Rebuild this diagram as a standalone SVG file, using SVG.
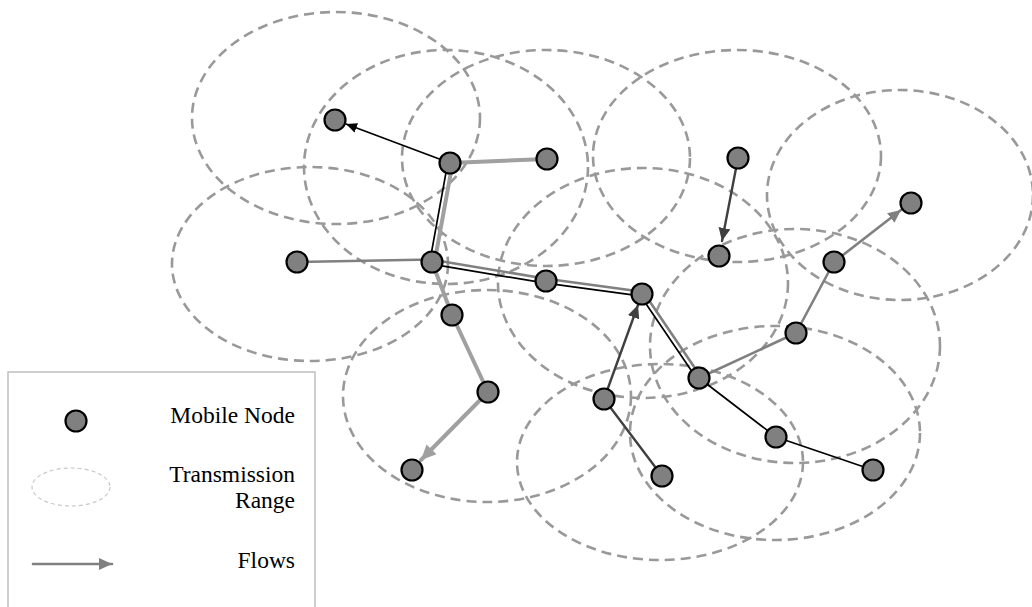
<svg xmlns="http://www.w3.org/2000/svg" width="1032" height="607" viewBox="0 0 1032 607">
  <style>
    .range { fill: none; stroke: #999999; stroke-width: 2.6; stroke-dasharray: 10 6; }
    .node circle { fill: #808080; stroke: #000000; stroke-width: 2.2; }
    .black { stroke: #000000; stroke-width: 1.7; fill: none; stroke-linecap: round; }
    .mid { stroke: #808080; stroke-width: 2.6; fill: none; stroke-linecap: round; }
    .thick { stroke: #a0a0a0; stroke-width: 4; fill: none; stroke-linecap: round; }
    .dark { stroke: #404040; stroke-width: 2.4; fill: none; stroke-linecap: round; }
    .label { font-family: "Liberation Serif", "Times New Roman", serif; font-size: 23.5px; fill: #000000; text-anchor: end; }
  </style>
  <defs>
    <marker id="arrBlack" markerUnits="userSpaceOnUse" markerWidth="12" markerHeight="10" refX="11" refY="5" orient="auto">
      <path d="M0,0 L11,5 L0,10 Z" fill="#000000"/>
    </marker>
    <marker id="arrMid" markerUnits="userSpaceOnUse" markerWidth="14" markerHeight="12" refX="13" refY="6" orient="auto">
      <path d="M0,0 L13,6 L0,12 Z" fill="#808080"/>
    </marker>
    <marker id="arrThick" markerUnits="userSpaceOnUse" markerWidth="16" markerHeight="14" refX="15" refY="7" orient="auto">
      <path d="M0,0 L15,7 L0,14 Z" fill="#a0a0a0"/>
    </marker>
    <marker id="arrDark" markerUnits="userSpaceOnUse" markerWidth="14" markerHeight="12" refX="13" refY="6" orient="auto">
      <path d="M0,0 L13,6 L0,12 Z" fill="#404040"/>
    </marker>
  </defs>

  <rect width="1032" height="607" fill="#ffffff"/>

  <!-- transmission ranges -->
  <g id="ranges">
    <ellipse class="range" cx="336" cy="118" rx="144" ry="106"/>
    <ellipse class="range" cx="446" cy="167" rx="142" ry="117"/>
    <ellipse class="range" cx="546" cy="158" rx="144" ry="108"/>
    <ellipse class="range" cx="737" cy="156" rx="144" ry="106"/>
    <ellipse class="range" cx="900" cy="195" rx="133" ry="105"/>
    <ellipse class="range" cx="310" cy="264" rx="138" ry="97"/>
    <ellipse class="range" cx="643" cy="283" rx="145" ry="115"/>
    <ellipse class="range" cx="487" cy="396" rx="144" ry="106"/>
    <ellipse class="range" cx="795" cy="346" rx="145" ry="117"/>
    <ellipse class="range" cx="660" cy="462" rx="143" ry="98"/>
    <ellipse class="range" cx="775" cy="433" rx="145" ry="107"/>
  </g>

  <!-- flows -->
  <g id="connectors">
    <!-- light thick flow -->
    <line class="thick" x1="547" y1="159" x2="450" y2="163"/>
    <line class="thick" x1="452.5" y1="163.5" x2="434.5" y2="262.5"/>
    <line class="thick" x1="432" y1="262" x2="452" y2="315"/>
    <line class="thick" x1="452" y1="315" x2="488" y2="392"/>
    <line class="thick" x1="488" y1="392" x2="421" y2="460" marker-end="url(#arrThick)"/>

    <!-- black flow -->
    <line class="black" x1="873" y1="470" x2="776" y2="437"/>
    <line class="black" x1="776" y1="437" x2="699" y2="378"/>
    <line class="black" x1="697.2" y1="379.2" x2="640.2" y2="295.2"/>
    <line class="black" x1="641.7" y1="296.2" x2="545.7" y2="283.2"/>
    <line class="black" x1="545.6" y1="283.2" x2="431.6" y2="264.2"/>
    <line class="black" x1="429.8" y1="261.6" x2="447.8" y2="162.6"/>
    <line class="black" x1="450" y1="163" x2="346" y2="124" marker-end="url(#arrBlack)"/>

    <!-- mid grey flow -->
    <line class="mid" x1="297" y1="262" x2="432" y2="259.5"/>
    <line class="mid" x1="432.4" y1="259.8" x2="546.4" y2="278.8"/>
    <line class="mid" x1="546.3" y1="278.8" x2="642.3" y2="291.8"/>
    <line class="mid" x1="643.8" y1="292.8" x2="700.8" y2="376.8"/>
    <line class="mid" x1="699" y1="378" x2="796" y2="333"/>
    <line class="mid" x1="796" y1="333" x2="834" y2="262"/>
    <line class="mid" x1="834" y1="262" x2="901" y2="210" marker-end="url(#arrMid)"/>

    <!-- dark flows -->
    <line class="dark" x1="662" y1="476" x2="604" y2="399"/>
    <line class="dark" x1="604" y1="399" x2="638" y2="305" marker-end="url(#arrDark)"/>
    <line class="dark" x1="738" y1="158" x2="722" y2="241" marker-end="url(#arrDark)"/>
  </g>

  <!-- mobile nodes -->
  <g id="n1" class="node"><circle cx="335" cy="120" r="10.5"/></g>
  <g id="n2" class="node"><circle cx="450" cy="163" r="10.5"/></g>
  <g id="n3" class="node"><circle cx="547" cy="159" r="10.5"/></g>
  <g id="n4" class="node"><circle cx="738" cy="158" r="10.5"/></g>
  <g id="n5" class="node"><circle cx="297" cy="262" r="10.5"/></g>
  <g id="n6" class="node"><circle cx="432" cy="262" r="10.5"/></g>
  <g id="n7" class="node"><circle cx="546" cy="281" r="10.5"/></g>
  <g id="n8" class="node"><circle cx="642" cy="294" r="10.5"/></g>
  <g id="n9" class="node"><circle cx="719" cy="256" r="10.5"/></g>
  <g id="n10" class="node"><circle cx="911" cy="203" r="10.5"/></g>
  <g id="n11" class="node"><circle cx="834" cy="262" r="10.5"/></g>
  <g id="n12" class="node"><circle cx="452" cy="315" r="10.5"/></g>
  <g id="n13" class="node"><circle cx="796" cy="333" r="10.5"/></g>
  <g id="n14" class="node"><circle cx="488" cy="392" r="10.5"/></g>
  <g id="n15" class="node"><circle cx="604" cy="399" r="10.5"/></g>
  <g id="n16" class="node"><circle cx="699" cy="378" r="10.5"/></g>
  <g id="n17" class="node"><circle cx="412" cy="470" r="10.5"/></g>
  <g id="n18" class="node"><circle cx="662" cy="476" r="10.5"/></g>
  <g id="n19" class="node"><circle cx="776" cy="437" r="10.5"/></g>
  <g id="n20" class="node"><circle cx="873" cy="470" r="10.5"/></g>

  <!-- legend -->
  <g id="legend">
    <rect x="8" y="372" width="307" height="250" fill="#ffffff" stroke="#bfbfbf" stroke-width="1.5"/>
    <g class="node"><circle cx="76" cy="421" r="10.5"/></g>
    <text class="label" x="295" y="423">Mobile Node</text>
    <ellipse cx="71" cy="487" rx="39" ry="19" fill="none" stroke="#c8c8c8" stroke-width="1.2" stroke-dasharray="4 3"/>
    <text class="label" x="295" y="482">Transmission</text>
    <text class="label" x="295" y="508">Range</text>
    <line class="mid" x1="33" y1="564" x2="112" y2="564" marker-end="url(#arrMid)"/>
    <text class="label" x="295" y="568">Flows</text>
  </g>
</svg>
